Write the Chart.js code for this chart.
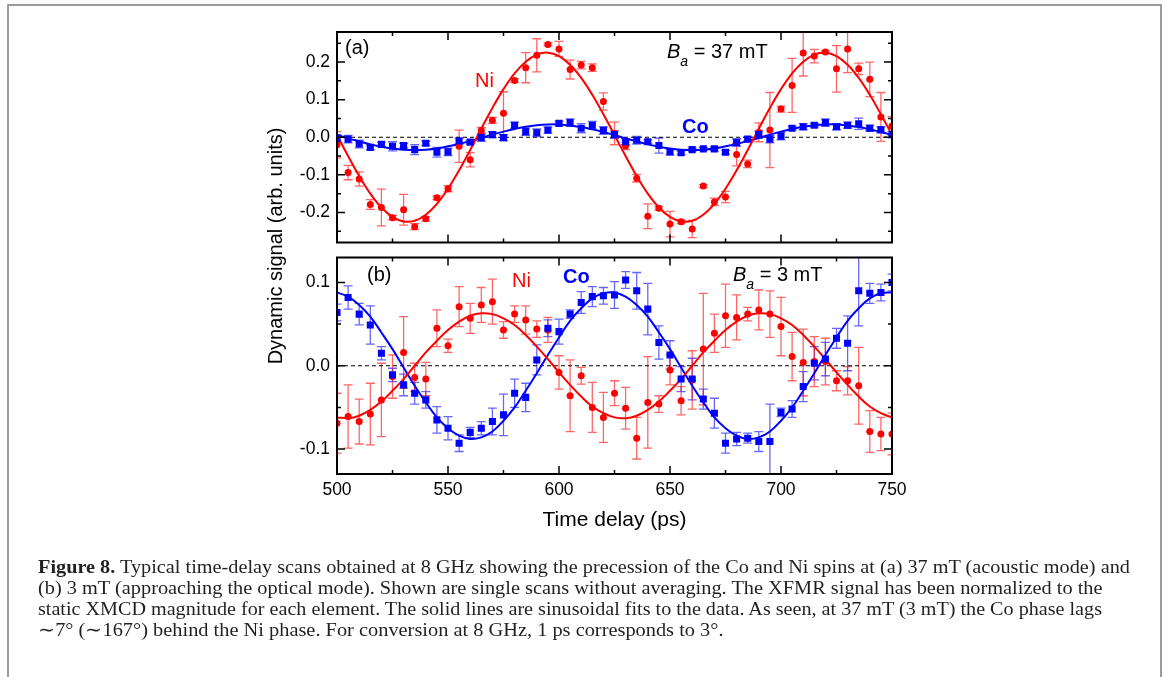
<!DOCTYPE html>
<html>
<head>
<meta charset="utf-8">
<script src="https://cdn.jsdelivr.net/npm/chart.js@4.4.1/dist/chart.umd.min.js"></script>
<style>
  body { margin: 0; background: #fff; }
  #page { position: relative; width: 1168px; height: 677px; overflow: hidden; background: #fff;
          font-family: "Liberation Sans", Arial, sans-serif; color: #000; }
  #frame { position: absolute; left: 7px; top: 4px; width: 1151px; height: 720px; border: 2px solid #9c9c9c; }
  .box { position: absolute; left: 0; width: 1168px; }
  .lbl { position: absolute; white-space: nowrap; line-height: 1; font-size: 20px; }
  .lbl sub { font-size: 14px; vertical-align: -8px; line-height: 0; }
  .red { color: #ff0000; }
  .blue { color: #0000ff; font-weight: bold; }
  #ytitle { position: absolute; left: 75px; top: 236px; width: 400px; text-align: center; font-size: 20px;
            line-height: 1; transform: rotate(-90deg); transform-origin: 50% 50%; white-space: nowrap; }
  .cap { position: absolute; left: 38px; white-space: nowrap; font-family: "Liberation Serif", "Times New Roman", serif;
         font-size: 19px; line-height: 21px; color: #231f20; transform-origin: 0 0; }
</style>
</head>
<body>
<div id="page">
  <div id="frame"></div>

  <div class="box" style="top:0; height:260px;"><canvas id="panelA"></canvas></div>
  <div class="box" style="top:240px; height:320px;"><canvas id="panelB"></canvas></div>

  <div id="ytitle">Dynamic signal (arb. units)</div>

  <div class="lbl" style="left:345px; top:37px;">(a)</div>
  <div class="lbl red" style="left:475px; top:70px;">Ni</div>
  <div class="lbl blue" style="left:682px; top:116px;">Co</div>
  <div class="lbl" style="left:667px; top:41px;"><i>B</i><sub><i>a</i></sub> = 37 mT</div>

  <div class="lbl" style="left:367px; top:264px;">(b)</div>
  <div class="lbl red" style="left:512px; top:270px;">Ni</div>
  <div class="lbl blue" style="left:563px; top:266px;">Co</div>
  <div class="lbl" style="left:733px; top:264px;"><i>B</i><sub><i>a</i></sub> = 3 mT</div>

  <div class="cap" style="top:556px;"><b>Figure 8.</b> Typical time-delay scans obtained at 8 GHz showing the precession of the Co and Ni spins at (a) 37 mT (acoustic mode) and</div>
  <div class="cap" style="top:577px;">(b) 3 mT (approaching the optical mode). Shown are single scans without averaging. The XFMR signal has been normalized to the</div>
  <div class="cap" style="top:598px;">static XMCD magnitude for each element. The solid lines are sinusoidal fits to the data. As seen, at 37 mT (3 mT) the Co phase lags</div>
  <div class="cap" style="top:619px;">∼7° (∼167°) behind the Ni phase. For conversion at 8 GHz, 1 ps corresponds to 3°.</div>
</div>

<script>
// time delay (ps) of every scan point
const times = [500, 505, 510, 515, 520, 525, 530, 535, 540, 545, 550, 555, 560, 565, 570, 575, 580, 585, 590, 595,
               600, 605, 610, 615, 620, 625, 630, 635, 640, 645, 650, 655, 660, 665, 670, 675, 680, 685, 690, 695,
               700, 705, 710, 715, 720, 725, 730, 735, 740, 745, 750];

// (a) Ba = 37 mT
const niA = [-0.020, -0.094, -0.111, -0.179, -0.187, -0.214, -0.193, -0.238, -0.217, -0.161, -0.137, -0.024, -0.060,
             0.018, 0.045, 0.064, 0.151, 0.185, 0.218, 0.247, 0.235, 0.180, 0.192, 0.185, 0.095,
             0.010, -0.023, -0.109, -0.210, -0.189, -0.231, -0.225, -0.244, -0.130, -0.172, -0.159, -0.046, -0.071,
             0.013, 0.019, 0.075, 0.138, 0.224, 0.216, 0.227, 0.182, 0.235, 0.182, 0.154, 0.054, 0.030];
const niAErr = [0.035, 0.019, 0.019, 0.013, 0.049, 0.006, 0.041, 0.008, 0.006, 0.005, 0.008, 0.043, 0.019,
                0.008, 0.008, 0.057, 0.005, 0.040, 0.044, 0.004, 0.020, 0.025, 0.010, 0.010, 0.023,
                0.030, 0.010, 0.010, 0.033, 0.005, 0.034, 0.005, 0.023, 0.004, 0.010, 0.015, 0.030, 0.010,
                0.025, 0.100, 0.008, 0.072, 0.061, 0.018, 0.004, 0.062, 0.063, 0.015, 0.046, 0.065, 0.025];
const coA = [-0.003, -0.005, -0.018, -0.027, -0.019, -0.024, -0.022, -0.033, -0.016, -0.040, -0.039, -0.010, -0.013,
             -0.001, 0.007, -0.001, 0.032, 0.015, 0.012, 0.019, 0.037, 0.039, 0.024, 0.032, 0.018,
             0.007, -0.012, -0.008, -0.012, -0.022, -0.039, -0.041, -0.033, -0.031, -0.031, -0.040, -0.014, -0.005,
             0.007, -0.005, 0.003, 0.024, 0.028, 0.032, 0.039, 0.028, 0.032, 0.036, 0.024, 0.020, 0.007];
const coAErr = [0.010, 0.010, 0.010, 0.006, 0.006, 0.012, 0.006, 0.013, 0.006, 0.013, 0.010, 0.008, 0.005,
                0.010, 0.008, 0.008, 0.008, 0.010, 0.010, 0.008, 0.006, 0.010, 0.012, 0.010, 0.010,
                0.010, 0.008, 0.010, 0.005, 0.020, 0.008, 0.005, 0.004, 0.004, 0.005, 0.005, 0.010, 0.005,
                0.010, 0.010, 0.010, 0.005, 0.008, 0.005, 0.010, 0.008, 0.008, 0.015, 0.008, 0.008, 0.008];
// sinusoidal fits
const fitNiA = [0.006, -0.050, -0.103, -0.150, -0.187, -0.212, -0.224, -0.222, -0.206, -0.177, -0.137, -0.088, -0.034,
                0.023, 0.078, 0.128, 0.170, 0.201, 0.220, 0.225, 0.216, 0.193, 0.158, 0.113, 0.061,
                0.006, -0.050, -0.103, -0.150, -0.187, -0.212, -0.224, -0.222, -0.206, -0.177, -0.137, -0.088, -0.034,
                0.023, 0.078, 0.128, 0.170, 0.201, 0.220, 0.225, 0.216, 0.193, 0.158, 0.113, 0.061, 0.006];
const fitCoA = [0.006, -0.003, -0.011, -0.019, -0.025, -0.030, -0.033, -0.034, -0.033, -0.030, -0.024, -0.018, -0.010,
                -0.002, 0.007, 0.015, 0.022, 0.028, 0.032, 0.034, 0.034, 0.031, 0.027, 0.021, 0.014,
                0.006, -0.003, -0.011, -0.019, -0.025, -0.030, -0.033, -0.034, -0.033, -0.030, -0.024, -0.018, -0.010,
                -0.002, 0.007, 0.015, 0.022, 0.028, 0.032, 0.034, 0.034, 0.031, 0.027, 0.021, 0.014, 0.006];

// (b) Ba = 3 mT
const niB = [-0.069, -0.061, -0.067, -0.058, -0.041, -0.013, 0.016, -0.014, -0.016, 0.045, 0.024, 0.071, 0.057,
             0.073, 0.077, 0.043, 0.062, 0.055, 0.044, 0.043, -0.008, -0.036, -0.012, -0.050, -0.062,
             -0.033, -0.051, -0.087, -0.044, -0.046, -0.005, -0.042, -0.017, 0.020, 0.039, 0.060, 0.058, 0.062,
             0.067, 0.062, 0.047, 0.011, 0.004, 0.005, 0.005, -0.018, -0.018, -0.024, -0.079, -0.082, -0.082];
const niBErr = [0.036, 0.038, 0.027, 0.037, 0.044, 0.026, 0.043, 0.017, 0.020, 0.022, 0.008, 0.024, 0.018,
                0.021, 0.027, 0.010, 0.010, 0.017, 0.010, 0.015, 0.020, 0.043, 0.010, 0.030, 0.030,
                0.015, 0.025, 0.025, 0.055, 0.010, 0.018, 0.017, 0.035, 0.067, 0.023, 0.038, 0.027, 0.008,
                0.024, 0.028, 0.035, 0.029, 0.040, 0.030, 0.028, 0.012, 0.017, 0.046, 0.025, 0.020, 0.025];
const coB = [0.064, 0.082, 0.062, 0.049, 0.015, -0.011, -0.023, -0.033, -0.041, -0.065, -0.075, -0.093, -0.080,
             -0.075, -0.067, -0.059, -0.033, -0.038, 0.007, 0.045, 0.041, 0.062, 0.076, 0.083, 0.084,
             0.085, 0.103, 0.090, 0.068, 0.028, 0.013, -0.016, -0.016, -0.040, -0.057, -0.093, -0.088, -0.087,
             -0.091, -0.091, -0.056, -0.052, -0.025, 0.003, 0.008, 0.033, 0.027, 0.090, 0.087, 0.088, 0.100];
const coBErr = [0.010, 0.014, 0.013, 0.023, 0.008, 0.008, 0.013, 0.013, 0.010, 0.016, 0.014, 0.010, 0.006,
                0.008, 0.016, 0.025, 0.017, 0.017, 0.018, 0.010, 0.015, 0.005, 0.013, 0.012, 0.010,
                0.016, 0.010, 0.022, 0.031, 0.020, 0.017, 0.015, 0.025, 0.012, 0.018, 0.012, 0.008, 0.006,
                0.012, 0.045, 0.005, 0.010, 0.018, 0.020, 0.020, 0.012, 0.033, 0.042, 0.012, 0.010, 0.010];
const fitNiB = [-0.062, -0.063, -0.060, -0.053, -0.043, -0.030, -0.016, 0.000, 0.016, 0.030, 0.043, 0.053, 0.060,
                0.063, 0.062, 0.057, 0.049, 0.037, 0.023, 0.008, -0.008, -0.023, -0.037, -0.049, -0.057,
                -0.062, -0.063, -0.060, -0.053, -0.043, -0.030, -0.016, 0.000, 0.016, 0.030, 0.043, 0.053, 0.060,
                0.063, 0.062, 0.057, 0.049, 0.037, 0.023, 0.008, -0.008, -0.023, -0.037, -0.049, -0.057, -0.062];
const fitCoB = [0.088, 0.083, 0.073, 0.059, 0.040, 0.020, -0.002, -0.024, -0.044, -0.062, -0.075, -0.084, -0.088,
                -0.086, -0.079, -0.066, -0.050, -0.030, -0.009, 0.013, 0.034, 0.054, 0.069, 0.081, 0.087,
                0.088, 0.083, 0.073, 0.059, 0.040, 0.020, -0.002, -0.024, -0.044, -0.062, -0.075, -0.084, -0.088,
                -0.086, -0.079, -0.066, -0.050, -0.030, -0.009, 0.013, 0.034, 0.054, 0.069, 0.081, 0.087, 0.088];

// ticks
const xTicks = [500, 550, 600, 650, 700, 750];
const xMinor = [525, 575, 625, 675, 725];
const yTicksA = [-0.2, -0.1, 0.0, 0.1, 0.2];
const yMinorA = [-0.25, -0.15, -0.05, 0.05, 0.15, 0.25];
const yTicksB = [-0.1, 0.0, 0.1];
const yMinorB = [-0.05, 0.05];

const RED = '#ff0000';
const BLUE = '#0000ff';
const FONT = '"Liberation Sans", Arial, sans-serif';

const pts = arr => times.map((t, i) => ({ x: t, y: arr[i] }));
const fmt = v => Math.abs(v) < 1e-9 ? '0.0' : v.toFixed(1);

// error bars with caps, under the markers
const errorBars = {
  id: 'errorBars',
  beforeDatasetsDraw(chart) {
    const { ctx, chartArea: a, scales: { x, y } } = chart;
    ctx.save();
    ctx.beginPath();
    ctx.rect(a.left, a.top, a.right - a.left, a.bottom - a.top);
    ctx.clip();
    chart.data.datasets.forEach(ds => {
      if (!ds.errors) return;
      ctx.strokeStyle = ds.errColor;
      ctx.lineWidth = 1.3;
      ds.data.forEach((p, i) => {
        const px = x.getPixelForValue(p.x);
        const top = y.getPixelForValue(p.y + ds.errors[i]);
        const bot = y.getPixelForValue(p.y - ds.errors[i]);
        ctx.beginPath();
        ctx.moveTo(px, top); ctx.lineTo(px, bot);
        ctx.moveTo(px - 4.5, top); ctx.lineTo(px + 4.5, top);
        ctx.moveTo(px - 4.5, bot); ctx.lineTo(px + 4.5, bot);
        ctx.stroke();
      });
    });
    // dashed zero line
    const y0 = y.getPixelForValue(0);
    ctx.strokeStyle = '#000';
    ctx.lineWidth = 1;
    ctx.setLineDash([4, 3]);
    ctx.beginPath();
    ctx.moveTo(a.left, y0); ctx.lineTo(a.right, y0);
    ctx.stroke();
    ctx.restore();
  }
};

// boxed frame with inward ticks on all sides
const frame = {
  id: 'frame',
  afterDatasetsDraw(chart, args, opts) {
    const { ctx, chartArea: a, scales: { x, y } } = chart;
    ctx.save();
    ctx.strokeStyle = '#000';
    ctx.lineWidth = 1.5;
    ctx.beginPath();
    const xt = (vals, len) => vals.forEach(v => {
      const px = x.getPixelForValue(v);
      ctx.moveTo(px, a.bottom); ctx.lineTo(px, a.bottom - len);
      ctx.moveTo(px, a.top); ctx.lineTo(px, a.top + len);
    });
    const yt = (vals, len) => vals.forEach(v => {
      const py = y.getPixelForValue(v);
      ctx.moveTo(a.left, py); ctx.lineTo(a.left + len, py);
      ctx.moveTo(a.right, py); ctx.lineTo(a.right - len, py);
    });
    xt(xTicks, 8); xt(xMinor, 4);
    yt(opts.yMajor, 8); yt(opts.yMinor, 4);
    ctx.stroke();
    ctx.lineWidth = 2;
    ctx.strokeRect(a.left, a.top, a.right - a.left, a.bottom - a.top);
    ctx.restore();
  }
};

function panel(id, p) {
  return new Chart(document.getElementById(id), {
    type: 'scatter',
    data: {
      datasets: [
        { label: 'Co', data: pts(p.co), errors: p.coErr, errColor: 'rgba(0,0,255,0.6)',
          pointStyle: 'rect', pointRadius: 5, backgroundColor: BLUE, borderWidth: 0, order: 0 },
        { label: 'Ni', data: pts(p.ni), errors: p.niErr, errColor: 'rgba(255,0,0,0.6)',
          pointStyle: 'circle', pointRadius: 3.5, backgroundColor: RED, borderWidth: 0, order: 0 },
        { label: 'Ni fit', type: 'line', data: pts(p.niFit), borderColor: RED, borderWidth: 2,
          pointRadius: 0, tension: 0.4, fill: false, order: 1 },
        { label: 'Co fit', type: 'line', data: pts(p.coFit), borderColor: BLUE, borderWidth: 2,
          pointRadius: 0, tension: 0.4, fill: false, order: 1 }
      ]
    },
    options: {
      responsive: true,
      maintainAspectRatio: false,
      animation: false,
      devicePixelRatio: 1,
      layout: { padding: p.pad },
      events: [],
      plugins: {
        legend: { display: false },
        tooltip: { enabled: false },
        frame: { yMajor: p.yMajor, yMinor: p.yMinor }
      },
      scales: {
        x: {
          type: 'linear', min: 500, max: 750,
          display: p.showX,
          afterBuildTicks: s => { s.ticks = xTicks.map(v => ({ value: v })); },
          afterFit: s => { if (p.showX) s.height = 86; },
          grid: { display: false, drawTicks: false },
          border: { display: false },
          ticks: { color: '#000', font: { family: FONT, size: 17.5 }, padding: 6, maxRotation: 0, autoSkip: false,
                   callback: v => String(v) },
          title: { display: true, text: 'Time delay (ps)', color: '#000', font: { family: FONT, size: 21 },
                   padding: { top: 0, bottom: 27 } }
        },
        y: {
          min: p.yMin, max: p.yMax,
          afterBuildTicks: s => { s.ticks = p.yMajor.map(v => ({ value: v })); },
          afterFit: s => { s.width = 60; },
          grid: { display: false, drawTicks: false },
          border: { display: false },
          ticks: { color: '#000', font: { family: FONT, size: 17.5 }, padding: 7, callback: v => fmt(v) }
        }
      }
    },
    plugins: [errorBars, frame]
  });
}

panel('panelA', {
  ni: niA, niErr: niAErr, co: coA, coErr: coAErr, niFit: fitNiA, coFit: fitCoA,
  yMin: -0.28, yMax: 0.28, yMajor: yTicksA, yMinor: yMinorA, showX: false,
  pad: { left: 277, right: 276, top: 32, bottom: 7 }
});
panel('panelB', {
  ni: niB, niErr: niBErr, co: coB, coErr: coBErr, niFit: fitNiB, coFit: fitCoB,
  yMin: -0.13, yMax: 0.13, yMajor: yTicksB, yMinor: yMinorB, showX: true,
  pad: { left: 277, right: 276, top: 13, bottom: 0 }
});

// fit each caption line to the width it has in the figure
const capWidths = [1092, 1064, 1064, 685];
document.querySelectorAll('.cap').forEach((el, i) => {
  el.style.transform = 'scaleX(' + (capWidths[i] / el.offsetWidth) + ')';
});
</script>
</body>
</html>
